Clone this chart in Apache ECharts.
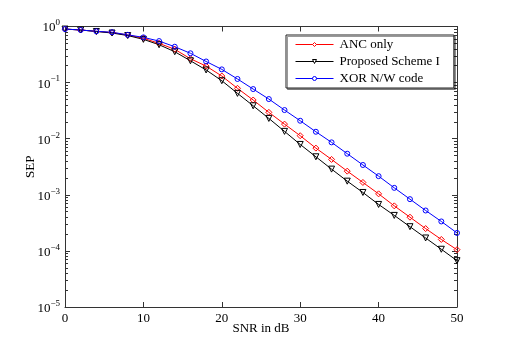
<!DOCTYPE html>
<html>
<head>
<meta charset="utf-8">
<script src="https://cdn.jsdelivr.net/npm/echarts@6/dist/echarts.min.js"></script>
<style>
  html, body { margin: 0; padding: 0; background: #fff; }
  #chart { width: 505px; height: 346px; }
</style>
</head>
<body>
<div id="chart"></div>
<script>
// SNR in dB
const snr = [0, 2, 4, 6, 8, 10, 12, 14, 16, 18, 20, 22, 24, 26, 28, 30, 32, 34, 36, 38, 40, 42, 44, 46, 48, 50];

// SEP
const ancOnly = [0.90, 0.866, 0.82, 0.78, 0.705, 0.616, 0.50, 0.392, 0.266, 0.197, 0.131, 0.079, 0.0489,
  0.0295, 0.0182, 0.0113, 0.0068, 0.00427, 0.00264, 0.00166, 0.00104, 0.000635, 0.000399, 0.00025, 0.00016, 0.000105];
const proposed = [0.90, 0.866, 0.815, 0.765, 0.69, 0.59, 0.473, 0.355, 0.245, 0.168, 0.108, 0.0643, 0.0386,
  0.023, 0.0135, 0.0079, 0.00476, 0.00287, 0.00175, 0.0011, 0.000673, 0.000429, 0.00027, 0.00017, 0.000107, 0.0000669];
const xorCode = [0.90, 0.866, 0.82, 0.79, 0.71, 0.64, 0.55, 0.436, 0.333, 0.238, 0.172, 0.116, 0.0767,
  0.0509, 0.0324, 0.0209, 0.0133, 0.0086, 0.0054, 0.0034, 0.00215, 0.00133, 0.000836, 0.000525, 0.000335, 0.000209];

const seriesNames = ['ANC only', 'Proposed Scheme I', 'XOR N/W code'];
const seriesColors = ['#ff0000', '#000000', '#0000ff'];

// y ticks 10^-5 .. 10^0, minor ticks at 2..9 x 10^k
const yMajor = [1e-5, 1e-4, 1e-3, 1e-2, 1e-1, 1];
const yMinor = [];
for (let k = -5; k < 0; k++) {
  for (let m = 2; m <= 9; m++) yMinor.push(m * Math.pow(10, k));
}

const font = 'Liberation Serif';
const axisColor = '#333';

function pairs(ys) {
  return snr.map((x, i) => [x, ys[i]]);
}

const chart = echarts.init(document.getElementById('chart'));

function xAx(pos, showLabel) {
  return {
    type: 'value', position: pos, min: 0, max: 50, interval: 10,
    axisLine: { show: true, onZero: false, lineStyle: { color: axisColor, width: 1 } },
    axisTick: { show: true, inside: true, length: 5, lineStyle: { color: axisColor } },
    axisLabel: { show: showLabel, color: '#000', fontFamily: font, fontSize: 13, margin: 5 },
    splitLine: { show: false },
    name: showLabel ? 'SNR in dB' : '',
    nameLocation: 'middle', nameGap: 15, nameMoveOverlap: false,
    nameTextStyle: { color: '#000', fontFamily: font, fontSize: 13 }
  };
}

function yAx(pos, minor, showLabel) {
  return {
    type: 'log', logBase: 10, position: pos, min: 1e-5, max: 1,
    axisLine: { show: !minor, onZero: false, lineStyle: { color: axisColor, width: 1 } },
    axisTick: minor
      ? { show: true, inside: true, length: 3, customValues: yMinor, lineStyle: { color: axisColor } }
      : { show: true, inside: true, length: 5, customValues: yMajor, lineStyle: { color: axisColor } },
    axisLabel: {
      show: showLabel, margin: 5,
      customValues: yMajor,
      formatter: function (v) {
        const e = Math.round(Math.log10(v));
        return '{b|10}{s|' + (e < 0 ? '\u2212' + (-e) : e) + '}';
      },
      rich: {
        b: { fontFamily: font, fontSize: 13, color: '#000', verticalAlign: 'bottom', lineHeight: 16 },
        s: { fontFamily: font, fontSize: 9, color: '#000', verticalAlign: 'top', lineHeight: 16 }
      }
    },
    splitLine: { show: false },
    name: showLabel ? 'SEP' : '',
    nameLocation: 'middle', nameGap: 28, nameRotate: 90, nameMoveOverlap: false,
    nameTextStyle: { color: '#000', fontFamily: font, fontSize: 13 }
  };
}

function lineSeries(i, ys, symbol, size, rotate) {
  return {
    name: seriesNames[i], type: 'line', data: pairs(ys),
    symbol: symbol, symbolSize: size, symbolRotate: rotate || 0,
    color: seriesColors[i],
    lineStyle: { color: seriesColors[i], width: 1 },
    itemStyle: { color: 'rgba(255,255,255,0)', borderColor: seriesColors[i], borderWidth: 1 }
  };
}

const option = {
  backgroundColor: '#fff',
  animation: false,
  grid: { left: 65, right: 48, top: 26.5, bottom: 39 },
  legend: {
    data: seriesNames.map((n, i) => ({
      name: n,
      lineStyle: { color: seriesColors[i], width: 1 },
      itemStyle: { color: '#fff', borderColor: seriesColors[i], borderWidth: 1 }
    })),
    orient: 'vertical',
    left: 286, top: 35,
    itemWidth: 38, itemHeight: 5, itemGap: 4,
    padding: [3, 14, 3, 9],
    backgroundColor: '#fff',
    borderColor: '#222', borderWidth: 1, borderRadius: 0,
    shadowColor: 'rgba(0,0,0,0.4)', shadowOffsetX: 1.5, shadowOffsetY: 1.5, shadowBlur: 0,
    textStyle: { fontFamily: font, fontSize: 13, color: '#000', padding: [0, 0, 0, 1] }
  },
  xAxis: [xAx('bottom', true), xAx('top', false)],
  yAxis: [yAx('left', false, true), yAx('left', true, false), yAx('right', false, false), yAx('right', true, false)],
  series: [
    lineSeries(0, ancOnly, 'diamond', 6),
    lineSeries(1, proposed, 'triangle', 6, 180),
    lineSeries(2, xorCode, 'circle', 5)
  ]
};

chart.setOption(option);
</script>
</body>
</html>
